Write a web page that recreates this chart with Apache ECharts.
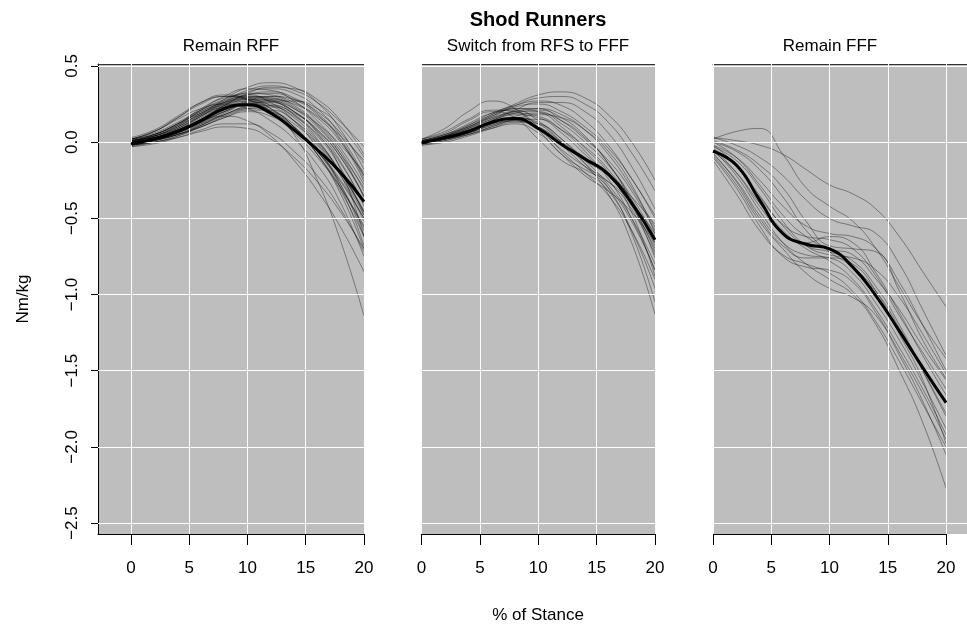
<!DOCTYPE html>
<html>
<head>
<meta charset="utf-8">
<script src="https://cdn.jsdelivr.net/npm/echarts@6/dist/echarts.min.js"></script>
<style>html,body{margin:0;padding:0;background:#fff;}#c{width:967px;height:625px;}</style>
</head>
<body>
<div id="c"></div>
<script>
// ---------- data ----------
const xs = [0, 2, 4, 6, 8, 10, 12, 14, 16, 18, 20];
const xTicks = [0, 5, 10, 15, 20];
const yTicks = [-2.5, -2, -1.5, -1, -0.5, 0, 0.5];
const mainTitle = 'Shod Runners';
const panelTitles = ['Remain RFF', 'Switch from RFS to FFF', 'Remain FFF'];
const xName = '% of Stance';
const yName = 'Nm/kg';

const rffCurves = [
  [0.00,0.03,0.09,0.17,0.25,0.30,0.29,0.22,0.10,-0.08,-0.30],
  [-0.02,0.01,0.06,0.13,0.21,0.26,0.25,0.18,0.05,-0.14,-0.40],
  [0.01,0.05,0.12,0.21,0.28,0.32,0.31,0.26,0.17,0.04,-0.12],
  [-0.01,0.02,0.05,0.10,0.16,0.20,0.17,0.08,-0.06,-0.25,-0.50],
  [0.02,0.07,0.16,0.26,0.31,0.28,0.19,0.06,-0.10,-0.30,-0.55],
  [-0.03,-0.01,0.03,0.08,0.12,0.12,0.06,-0.06,-0.22,-0.44,-0.72],
  [0.00,0.04,0.10,0.19,0.27,0.34,0.37,0.34,0.26,0.13,-0.03],
  [0.01,0.03,0.08,0.15,0.23,0.29,0.30,0.24,0.12,-0.06,-0.32],
  [-0.02,0.00,0.04,0.11,0.19,0.25,0.26,0.20,0.08,-0.10,-0.35],
  [0.02,0.07,0.15,0.22,0.25,0.22,0.14,0.02,-0.15,-0.40,-0.75],
  [-0.01,0.02,0.07,0.15,0.24,0.32,0.36,0.35,0.28,0.14,-0.08],
  [0.00,0.02,0.06,0.12,0.18,0.22,0.20,0.12,-0.02,-0.22,-0.48],
  [0.01,0.04,0.11,0.20,0.26,0.28,0.24,0.14,-0.01,-0.20,-0.45],
  [-0.02,0.01,0.05,0.12,0.20,0.26,0.28,0.25,0.16,0.00,-0.22],
  [0.03,0.08,0.17,0.26,0.30,0.28,0.20,0.05,-0.25,-0.65,-1.14],
  [0.00,0.03,0.08,0.15,0.22,0.27,0.27,0.20,0.06,-0.18,-0.62],
  [-0.01,0.01,0.05,0.11,0.18,0.24,0.27,0.27,0.22,0.10,-0.10],
  [0.01,0.05,0.12,0.20,0.26,0.29,0.27,0.20,0.07,-0.13,-0.42],
  [-0.03,0.00,0.04,0.10,0.17,0.22,0.23,0.17,0.04,-0.17,-0.48],
  [0.02,0.05,0.11,0.18,0.23,0.24,0.19,0.09,-0.06,-0.28,-0.62],
  [0.00,0.03,0.09,0.18,0.28,0.36,0.39,0.36,0.26,0.08,-0.18],
  [-0.01,0.02,0.06,0.13,0.20,0.24,0.21,0.10,-0.08,-0.34,-0.70],
  [0.01,0.04,0.10,0.19,0.25,0.27,0.22,0.10,-0.08,-0.32,-0.62],
  [-0.02,0.00,0.03,0.07,0.10,0.09,0.02,-0.10,-0.26,-0.46,-0.70],
  [0.00,0.04,0.11,0.21,0.30,0.35,0.34,0.27,0.14,-0.04,-0.28],
  [0.02,0.06,0.13,0.21,0.27,0.30,0.28,0.22,0.12,-0.02,-0.20],
  [-0.01,0.03,0.08,0.16,0.23,0.25,0.20,0.09,-0.08,-0.30,-0.56],
  [0.01,0.04,0.09,0.17,0.24,0.29,0.29,0.23,0.11,-0.08,-0.36],
  [0.00,0.02,0.07,0.14,0.21,0.27,0.30,0.28,0.20,0.06,-0.14],
  [-0.02,0.01,0.06,0.14,0.22,0.28,0.27,0.18,0.02,-0.22,-0.52],
  [0.02,0.07,0.16,0.25,0.30,0.29,0.22,0.10,-0.06,-0.26,-0.50],
  [0.00,0.03,0.08,0.14,0.17,0.14,0.04,-0.12,-0.32,-0.56,-0.85],
  [-0.01,0.02,0.07,0.15,0.24,0.31,0.33,0.29,0.19,0.02,-0.24],
  [0.01,0.03,0.07,0.13,0.20,0.25,0.24,0.16,0.01,-0.20,-0.46],
  [0.00,0.05,0.12,0.22,0.29,0.31,0.26,0.14,-0.04,-0.28,-0.58],
  [-0.02,0.01,0.05,0.11,0.18,0.23,0.24,0.19,0.08,-0.10,-0.36],
  [0.01,0.04,0.10,0.18,0.26,0.31,0.32,0.28,0.18,0.01,-0.26],
  [0.00,0.02,0.05,0.10,0.16,0.21,0.21,0.14,0.00,-0.20,-0.46],
  [0.02,0.05,0.12,0.19,0.24,0.25,0.20,0.10,-0.06,-0.30,-0.68],
  [-0.01,0.02,0.08,0.17,0.26,0.33,0.35,0.32,0.22,0.04,-0.22]
];
const rffMean = [-0.01,0.02,0.07,0.14,0.22,0.245,0.19,0.08,-0.05,-0.20,-0.39];

const switchCurves = [
  [0.00,0.04,0.10,0.18,0.25,0.31,0.33,0.29,0.18,0.00,-0.25],
  [0.01,0.05,0.11,0.18,0.24,0.29,0.30,0.25,0.13,-0.07,-0.32],
  [-0.01,0.02,0.07,0.14,0.18,0.16,0.06,-0.08,-0.22,-0.42,-0.70],
  [0.02,0.07,0.15,0.21,0.20,0.10,-0.06,-0.20,-0.35,-0.58,-0.90],
  [0.00,0.03,0.08,0.15,0.20,0.20,0.12,0.00,-0.15,-0.36,-0.62],
  [-0.02,0.01,0.05,0.10,0.14,0.12,0.02,-0.12,-0.28,-0.50,-0.80],
  [0.01,0.05,0.12,0.19,0.21,0.14,0.00,-0.14,-0.30,-0.60,-1.05],
  [0.00,0.03,0.09,0.17,0.23,0.25,0.20,0.10,-0.04,-0.24,-0.50],
  [-0.01,0.02,0.06,0.12,0.16,0.13,0.02,-0.14,-0.34,-0.66,-1.13],
  [0.02,0.09,0.20,0.27,0.22,0.08,-0.08,-0.18,-0.26,-0.40,-0.60],
  [0.00,0.02,0.06,0.11,0.15,0.15,0.08,-0.03,-0.18,-0.40,-0.72],
  [0.01,0.04,0.09,0.15,0.20,0.22,0.18,0.08,-0.08,-0.30,-0.56],
  [-0.02,0.00,0.04,0.09,0.13,0.10,-0.02,-0.16,-0.30,-0.52,-0.84],
  [0.00,0.04,0.10,0.16,0.19,0.17,0.08,-0.06,-0.24,-0.50,-0.84],
  [0.01,0.03,0.08,0.14,0.19,0.21,0.16,0.04,-0.14,-0.40,-0.76],
  [0.00,0.02,0.05,0.09,0.12,0.06,-0.08,-0.22,-0.32,-0.46,-0.66],
  [0.02,0.06,0.14,0.20,0.16,0.02,-0.12,-0.20,-0.32,-0.58,-0.96],
  [-0.01,0.02,0.07,0.14,0.21,0.26,0.26,0.20,0.06,-0.16,-0.44],
  [0.00,0.03,0.07,0.12,0.14,0.08,-0.05,-0.16,-0.26,-0.44,-0.74],
  [0.01,0.04,0.09,0.16,0.22,0.22,0.14,0.02,-0.12,-0.32,-0.58],
  [-0.01,0.01,0.05,0.10,0.15,0.18,0.16,0.08,-0.06,-0.28,-0.60],
  [0.00,0.03,0.08,0.13,0.16,0.12,0.00,-0.12,-0.22,-0.36,-0.54],
  [0.01,0.05,0.10,0.17,0.22,0.20,0.10,-0.04,-0.20,-0.46,-0.88],
  [0.00,0.02,0.06,0.12,0.17,0.19,0.14,0.03,-0.14,-0.38,-0.68],
  [0.00,0.04,0.11,0.19,0.24,0.27,0.24,0.14,-0.02,-0.24,-0.48],
  [-0.01,0.02,0.06,0.11,0.14,0.10,0.00,-0.10,-0.20,-0.38,-0.66]
];
const switchMean = [-0.005,0.03,0.07,0.13,0.155,0.09,-0.015,-0.11,-0.21,-0.40,-0.64];

const fffCurves = [
  [0.02,0.07,0.09,-0.08,-0.30,-0.42,-0.52,-0.70,-0.95,-1.20,-1.42],
  [0.03,0.01,-0.02,-0.08,-0.18,-0.28,-0.34,-0.44,-0.62,-0.85,-1.08],
  [0.03,-0.02,-0.10,-0.22,-0.38,-0.50,-0.55,-0.60,-0.80,-1.10,-1.40],
  [-0.02,-0.15,-0.35,-0.55,-0.68,-0.72,-0.78,-0.95,-1.20,-1.50,-1.80],
  [-0.08,-0.25,-0.48,-0.66,-0.74,-0.76,-0.86,-1.06,-1.30,-1.58,-1.88],
  [-0.04,-0.20,-0.42,-0.60,-0.66,-0.62,-0.66,-0.86,-1.12,-1.40,-1.66],
  [-0.10,-0.30,-0.55,-0.75,-0.82,-0.84,-0.92,-1.12,-1.38,-1.65,-1.95],
  [0.00,-0.10,-0.28,-0.48,-0.62,-0.70,-0.74,-0.90,-1.10,-1.34,-1.56],
  [-0.05,-0.22,-0.45,-0.66,-0.80,-0.90,-1.00,-1.20,-1.50,-1.84,-2.27],
  [0.01,-0.05,-0.15,-0.30,-0.52,-0.68,-0.70,-0.72,-0.98,-1.30,-1.55],
  [-0.06,-0.20,-0.40,-0.58,-0.70,-0.78,-0.90,-1.10,-1.35,-1.62,-1.92],
  [-0.03,-0.12,-0.30,-0.52,-0.68,-0.74,-0.76,-0.84,-1.02,-1.26,-1.52],
  [-0.12,-0.34,-0.58,-0.74,-0.80,-0.86,-0.98,-1.18,-1.44,-1.72,-2.00],
  [-0.02,-0.10,-0.25,-0.42,-0.55,-0.60,-0.62,-0.70,-0.92,-1.20,-1.50],
  [-0.07,-0.26,-0.50,-0.68,-0.76,-0.76,-0.80,-0.98,-1.26,-1.56,-1.98],
  [0.00,-0.06,-0.18,-0.36,-0.58,-0.72,-0.82,-0.98,-1.22,-1.50,-1.78],
  [-0.09,-0.28,-0.52,-0.70,-0.86,-0.96,-1.02,-1.14,-1.40,-1.70,-2.05],
  [-0.04,-0.16,-0.36,-0.54,-0.62,-0.64,-0.70,-0.88,-1.14,-1.38,-1.62]
];
const fffMean = [-0.06,-0.15,-0.38,-0.60,-0.67,-0.70,-0.82,-1.01,-1.24,-1.48,-1.71];

// ---------- layout (styling only) ----------
const FONT = "'Liberation Sans', Arial, Helvetica, sans-serif";
const yMin = -2.572, yMax = 0.513;
const panels = [
  { curves: rffCurves, mean: rffMean, left: 98, width: 266, xMin: -2.83, xMax: 20, cx: 231 },
  { curves: switchCurves, mean: switchMean, left: 421.5, width: 233.5, xMin: 0, xMax: 20, cx: 538 },
  { curves: fffCurves, mean: fffMean, left: 713, width: 254, xMin: 0, xMax: 21.8, cx: 830 }
];
const gridTop = 64, gridHeight = 470;

const grids = [], xAxes = [], yAxes = [], series = [];
panels.forEach((p, i) => {
  grids.push({ left: p.left, top: gridTop, width: p.width, height: gridHeight,
    show: true, backgroundColor: '#bebebe', borderWidth: 0, containLabel: false });
  xAxes.push({
    type: 'value', gridIndex: i, min: p.xMin, max: p.xMax, position: 'bottom',
    axisLine: { show: i !== 2, onZero: false, lineStyle: { color: '#000', width: 1 } },
    axisTick: { show: true, customValues: xTicks, length: 11, lineStyle: { color: '#000' } },
    axisLabel: { show: true, customValues: xTicks, margin: 26, fontSize: 17, color: '#000', fontFamily: FONT },
    splitLine: { show: false }
  });
  yAxes.push(i === 0 ? {
    type: 'value', gridIndex: i, min: yMin, max: yMax, position: 'left',
    name: yName, nameLocation: 'middle', nameGap: 66, nameRotate: 90,
    nameTextStyle: { fontSize: 17, color: '#000', fontFamily: FONT },
    axisLine: { show: true, onZero: false, lineStyle: { color: '#000', width: 1 } },
    axisTick: { show: true, customValues: yTicks, length: 7, lineStyle: { color: '#000' } },
    axisLabel: { show: true, customValues: yTicks, rotate: 90, margin: 17, fontSize: 17, color: '#000', fontFamily: FONT,
      formatter: v => (v < 0 ? '\u2212' : '') + Math.abs(v).toFixed(1) },
    splitLine: { show: false }
  } : {
    type: 'value', gridIndex: i, min: yMin, max: yMax, show: false, splitLine: { show: false }
  });
});
// top border lines
panels.forEach((p, i) => {
  xAxes.push({ type: 'value', gridIndex: i, min: p.xMin, max: p.xMax, position: 'top',
    axisLine: { show: true, onZero: false, lineStyle: { color: '#333', width: 1.2 } },
    axisTick: { show: false }, axisLabel: { show: false }, splitLine: { show: false } });
});

panels.forEach((p, i) => {
  // white reference grid
  const mlData = xTicks.map(v => ({ xAxis: v })).concat(yTicks.map(v => ({ yAxis: v })));
  const extra = [];
  if (i === 2) {
    extra.push([{ coord: [0, yMin], lineStyle: { color: '#000', width: 1 } }, { coord: [20, yMin] }]);
  }
  series.push({
    type: 'line', xAxisIndex: i, yAxisIndex: i, data: [], z: 1, silent: true, clip: false,
    showSymbol: false,
    markLine: { silent: true, symbol: 'none', animation: false,
      label: { show: false },
      lineStyle: { color: '#ffffff', width: 1, type: 'solid' },
      data: mlData.concat(extra) }
  });
  p.curves.forEach(c => {
    series.push({
      type: 'line', xAxisIndex: i, yAxisIndex: i, z: 3, silent: true,
      data: xs.map((x, j) => [x, c[j]]),
      smooth: 0.5, showSymbol: false, symbol: 'none',
      lineStyle: { color: 'rgba(0,0,0,0.38)', width: 1 }
    });
  });
  series.push({
    type: 'line', xAxisIndex: i, yAxisIndex: i, z: 5, silent: true,
    data: xs.map((x, j) => [x, p.mean[j]]),
    smooth: 0.5, showSymbol: false, symbol: 'none',
    lineStyle: { color: '#000', width: 3 }
  });
});

const chart = echarts.init(document.getElementById('c'), null, { renderer: 'canvas' });
chart.setOption({
  animation: false,
  backgroundColor: '#ffffff',
  grid: grids,
  xAxis: xAxes,
  yAxis: yAxes,
  series: series,
  graphic: [
    { type: 'text', x: 538, y: 20, style: { text: mainTitle, fontSize: 20, fontWeight: 'bold', fill: '#000',
      fontFamily: FONT, align: 'center', verticalAlign: 'middle' }, silent: true },
    ...panels.map((p, i) => ({ type: 'text', x: p.cx, y: 46, style: { text: panelTitles[i], fontSize: 17, fill: '#000',
      fontFamily: FONT, align: 'center', verticalAlign: 'middle' }, silent: true })),
    { type: 'text', x: 538, y: 615, style: { text: xName, fontSize: 17, fill: '#000',
      fontFamily: FONT, align: 'center', verticalAlign: 'middle' }, silent: true }
  ]
});
</script>
</body>
</html>
